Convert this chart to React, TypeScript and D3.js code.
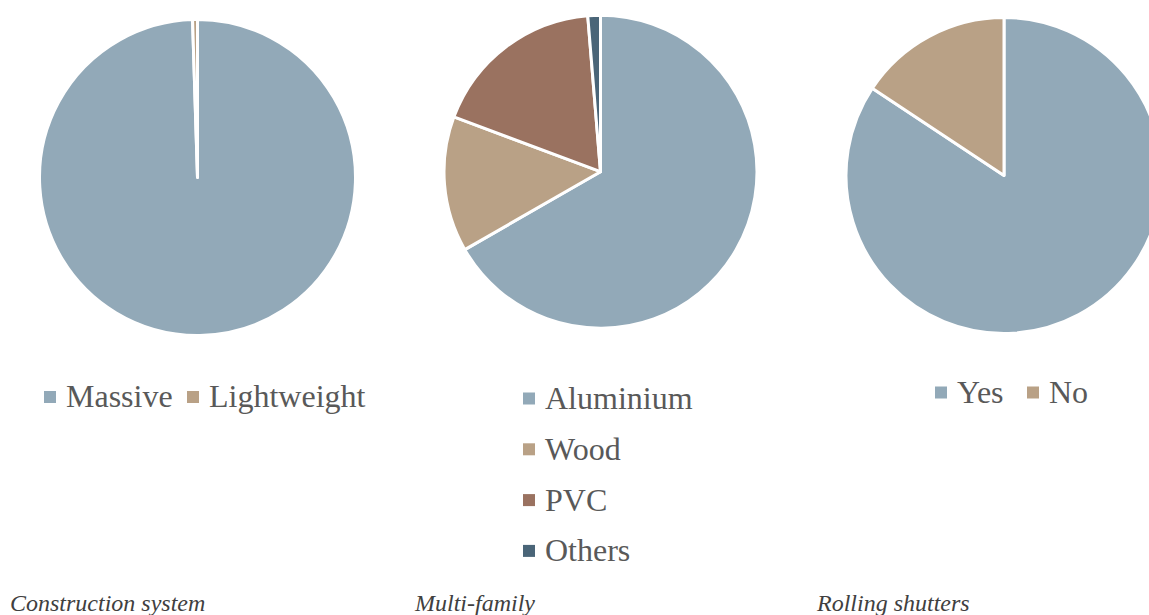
import React from "react";
import * as d3 from "d3";

const constructionLabels = ["Massive", "Lightweight"];
const constructionValues = [99.5, 0.5];

const multiFamilyLabels = ["Aluminium", "Wood", "PVC", "Others"];
const multiFamilyValues = [66.7, 14.0, 18.0, 1.3];

const shutterLabels = ["Yes", "No"];
const shutterValues = [84.3, 15.7];

const titles = ["Construction system", "Multi-family", "Rolling shutters"];

const palette = ["#92A9B8", "#B9A186", "#9A7260", "#4A6578"];

type PieSpec = {
  labels: string[];
  values: number[];
  cx: number;
  cy: number;
  r: number;
  title: string;
  titleX: number;
  legend: "row" | "column";
  legendX: number;
  legendY: number;
};

const specs: PieSpec[] = [
  { labels: constructionLabels, values: constructionValues, cx: 197.5, cy: 177.5, r: 158, title: titles[0], titleX: 10, legend: "row", legendX: 44, legendY: 397 },
  { labels: multiFamilyLabels, values: multiFamilyValues, cx: 600.5, cy: 171.7, r: 156.5, title: titles[1], titleX: 415, legend: "column", legendX: 523, legendY: 398.5 },
  { labels: shutterLabels, values: shutterValues, cx: 1004, cy: 175.5, r: 158, title: titles[2], titleX: 817, legend: "row", legendX: 935, legendY: 392.5 },
];

const legendItemStarts: Record<number, number[]> = {
  0: [44, 187],
  2: [935, 1027],
};

function Pie({ spec, idx }: { spec: PieSpec; idx: number }) {
  const pie = d3.pie<number>().sort(null).value((d) => d).startAngle(0).endAngle(2 * Math.PI);
  const arcs = pie(spec.values);
  const arc = d3.arc<d3.PieArcDatum<number>>().innerRadius(0).outerRadius(spec.r);
  const fontFamily = "'Liberation Serif', 'Times New Roman', serif";
  return (
    <g>
      <g transform={`translate(${spec.cx},${spec.cy})`}>
        {arcs.map((a, i) => (
          <path key={i} d={arc(a) || ""} fill={palette[i]} stroke="#ffffff" strokeWidth={3} strokeLinejoin="round" />
        ))}
      </g>
      {spec.legend === "row"
        ? spec.labels.map((l, i) => {
            const x = legendItemStarts[idx][i];
            return (
              <g key={l}>
                <rect x={x} y={spec.legendY - 6} width={12} height={12} fill={palette[i]} />
                <text x={x + 22} y={spec.legendY + 10} fontSize={32} fontFamily={fontFamily} fill="#595959">
                  {l}
                </text>
              </g>
            );
          })
        : spec.labels.map((l, i) => {
            const y = spec.legendY + i * 50.8;
            return (
              <g key={l}>
                <rect x={spec.legendX} y={y - 6} width={12} height={12} fill={palette[i]} />
                <text x={spec.legendX + 22} y={y + 10.5} fontSize={32} fontFamily={fontFamily} fill="#595959">
                  {l}
                </text>
              </g>
            );
          })}
      <text x={spec.titleX} y={611} fontSize={24} fontStyle="italic" fontFamily={fontFamily} fill="#404040">
        {spec.title}
      </text>
    </g>
  );
}

export default function App() {
  return (
    <svg
      width={1149}
      height={615}
      style={{ position: "absolute", left: 0, top: 0, display: "block", background: "#ffffff" }}
    >
      {specs.map((s, i) => (
        <Pie key={i} spec={s} idx={i} />
      ))}
    </svg>
  );
}
